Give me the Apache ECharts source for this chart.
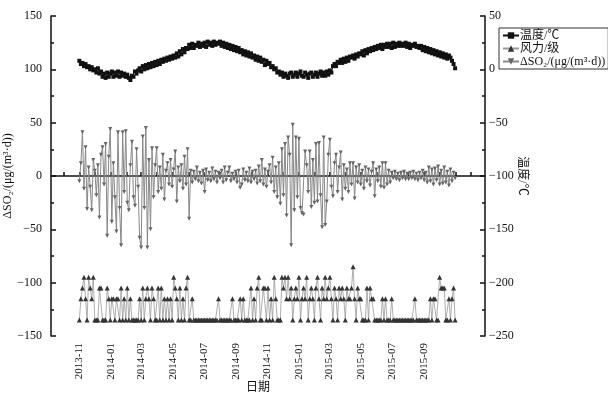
<!DOCTYPE html>
<html>
<head>
<meta charset="utf-8">
<script src="https://cdn.jsdelivr.net/npm/echarts@6/dist/echarts.min.js"></script>
<style>
html, body { margin: 0; padding: 0; background: #fff; }
#chart { width: 608px; height: 400px; }
</style>
</head>
<body>
<div id="chart"></div>
<script>
// 数据从 2013-11-01 开始，每 3 天一个点
const startDate = '2013-11-01';
const stepDays = 3;

// 温度/℃
const temperature = [
  8, 5, 6, 3, 5, 2, 3, 0, 2, -1,
  0, -3, 1, -4, -2, -7, -4, -8, -3, -7,
  -4, -2, -7, -3, -6, -2, -7, -3, -6, -4,
  -7, -5, -8, -10, -6, -7, -2, -4, -1, 1,
  -2, 3, 0, 4, 1, 5, 2, 6, 3, 7,
  4, 8, 5, 9, 7, 10, 8, 11, 9, 12,
  10, 13, 11, 15, 12, 17, 14, 19, 16, 20,
  19, 23, 20, 24, 20, 23, 22, 25, 21, 24,
  22, 25, 21, 26, 23, 25, 22, 26, 23, 25,
  24, 26, 22, 25, 21, 24, 20, 23, 19, 22,
  18, 21, 17, 20, 16, 18, 14, 17, 13, 16,
  12, 15, 11, 13, 9, 12, 8, 11, 7, 9,
  4, 8, 5, 6, 2, 3, 0, 1, -3, -2,
  -5, -3, -7, -4, -6, -8, -4, -3, -7, -5,
  -3, -7, -4, -2, -6, -7, -3, -5, -8, -4,
  -3, -7, -5, -3, -7, -4, -2, -6, -3, -6,
  -2, -5, -1, -3, 3, 5, 3, 7, 6, 9,
  6, 10, 7, 11, 8, 12, 11, 13, 10, 14,
  12, 15, 14, 17, 13, 18, 15, 19, 17, 20,
  18, 21, 19, 22, 20, 23, 19, 23, 21, 24,
  21, 24, 20, 25, 21, 24, 22, 25, 22, 24,
  22, 25, 21, 24, 20, 23, 22, 24, 21, 22,
  20, 22, 18, 21, 17, 20, 16, 19, 15, 18,
  14, 17, 13, 16, 12, 15, 11, 14, 10, 13,
  11, 8, 5, 1
];

// 风力/级
const wind = [
  1, 3, 4, 5, 3, 1, 5, 4, 3, 5,
  1, 1, 1, 4, 4, 1, 1, 1, 4, 3,
  1, 3, 3, 1, 3, 3, 1, 4, 1, 3,
  1, 4, 1, 3, 1, 1, 1, 1, 1, 3,
  1, 4, 1, 3, 4, 3, 1, 4, 3, 1,
  1, 4, 1, 4, 1, 3, 1, 3, 1, 3,
  1, 5, 4, 3, 1, 4, 1, 3, 1, 4,
  5, 1, 1, 3, 1, 1, 1, 1, 1, 1,
  1, 1, 1, 1, 1, 1, 1, 1, 1, 1,
  3, 1, 1, 1, 1, 1, 1, 1, 1, 3,
  1, 1, 1, 1, 3, 1, 3, 1, 1, 1,
  1, 4, 1, 3, 1, 4, 5, 1, 1, 4,
  4, 1, 4, 1, 3, 1, 5, 3, 1, 1,
  1, 5, 4, 5, 3, 5, 3, 4, 1, 3,
  4, 3, 5, 1, 3, 4, 3, 5, 1, 3,
  4, 3, 1, 4, 5, 3, 1, 4, 3, 5,
  3, 4, 5, 3, 1, 4, 3, 1, 4, 3,
  4, 3, 1, 4, 3, 3, 4, 6, 3, 1,
  4, 3, 3, 1, 1, 1, 4, 1, 4, 3,
  3, 1, 1, 1, 1, 1, 3, 1, 3, 1,
  1, 1, 3, 1, 1, 1, 1, 1, 1, 1,
  1, 1, 1, 1, 1, 1, 1, 3, 1, 1,
  1, 1, 1, 1, 1, 1, 1, 3, 1, 3,
  3, 1, 1, 5, 4, 4, 4, 1, 1, 3,
  1, 3, 4, 1
];

// ΔSO2/(μg/(m³·d))
const dSO2 = [
  -5, 12, 41, -12, 27, -31, 8, -10, -32, 15,
  5, -18, 10, -39, 20, 27, -8, 30, -56, 18,
  44, -43, 12, -20, -52, 41, -30, -65, 41, -15,
  42, -25, -32, 10, 32, -20, -28, 25, -10, -58,
  -67, 37, -30, 45, -67, 15, -50, 26, -20, 10,
  26, -15, 8, -12, 20, -22, 5, 12, -8, 15,
  -10, 6, 23, -24, 8, -5, 10, -12, 18, -8,
  25, -40, 5, -6, 4, -3, 8, -5, 3, -7,
  5, -15, 6, -4, 3, -5, 7, -3, 4, -6,
  3, -2, 5, -6, 8, -4, 3, 8, -5, 2,
  -3, 4, -6, 5, -11, -8, 6, -4, 3, -5,
  7, -6, 4, -3, 5, -7, 9, -5, 15, -8,
  6, -10, 4, 10, -6, 17, -15, 8, -20, 12,
  -26, 25, -18, 30, -37, 36, 20, -65, 48, -32,
  36, -20, 35, -30, -35, -36, 23, 10, -15, 23,
  -29, 15, -25, 30, -24, 31, -18, -48, 36, -46,
  -24, 20, 34, -10, -19, 12, 20, -15, 8, 22,
  -22, 10, -12, 6, -15, 12, -8, 12, -21, 8,
  -6, 10, -8, 5, -12, 8, -5, 6, -9, 4,
  12, -19, 6, -5, 8, -10, 12, -11, 12, -8,
  5, -6, 3, -2, 4, -3, 2, -4, 3, -2,
  4, -3, 2, -3, 3, -2, 4, -3, 2, -4,
  3, -2, 5, -4, 3, -6, 8, -5, 6, -8,
  7, -4, 9, -8, 5, -7, 8, -6, 4, -9,
  6, -5, 3, -2
];

// 横轴刻度（每月一个），标签每两个月一个
const tickMonths = [
  '2013-10', '2013-11', '2013-12', '2014-01', '2014-02', '2014-03', '2014-04',
  '2014-05', '2014-06', '2014-07', '2014-08', '2014-09', '2014-10', '2014-11',
  '2014-12', '2015-01', '2015-02', '2015-03', '2015-04', '2015-05', '2015-06',
  '2015-07', '2015-08', '2015-09', '2015-10', '2015-11', '2015-12'
];
const labelMonths = [
  '2013-11', '2014-01', '2014-03', '2014-05', '2014-07', '2014-09',
  '2014-11', '2015-01', '2015-03', '2015-05', '2015-07', '2015-09'
];

const font = "'Liberation Serif', 'Noto Sans CJK SC', serif";

function monthTime(ym) {
  const [y, m] = ym.split('-').map(Number);
  return new Date(y, m - 1, 1).getTime();
}

function withDates(values) {
  const [y, m, d] = startDate.split('-').map(Number);
  return values.map((v, i) => [new Date(y, m - 1, d + i * stepDays).getTime(), v]);
}

function fmtMonth(value) {
  const dt = new Date(value);
  const mm = String(dt.getMonth() + 1).padStart(2, '0');
  return dt.getFullYear() + '-' + mm;
}

function minus(v) {
  return String(v).replace('-', '\u2212');
}

const axisLine = { show: true, lineStyle: { color: '#111', width: 1.5 } };
const tickStyle = { color: '#111', width: 1.5 };
const labelStyle = { fontFamily: font, fontSize: 12, color: '#111' };

const chart = echarts.init(document.getElementById('chart'), null, { renderer: 'canvas' });

chart.setOption({
  animation: false,
  backgroundColor: '#fff',
  grid: { left: 51, right: 123, top: 16, bottom: 64, outerBoundsMode: 'none', containLabel: false },
  legend: {
    orient: 'vertical',
    left: 499,
    top: 28,
    itemGap: 0,
    itemWidth: 16,
    itemHeight: 8,
    padding: [1, 3, 1, 3],
    borderColor: '#333',
    borderWidth: 1,
    textStyle: { fontFamily: font, fontSize: 12, color: '#111', lineHeight: 13, padding: [0, 0, 0, -4] },
    data: ['温度/℃', '风力/级', 'ΔSO₂/(μg/(m³·d))']
  },
  xAxis: {
    type: 'value',
    min: new Date(2013, 8, 7).getTime(),
    max: new Date(2015, 11, 28).getTime(),
    name: '日期',
    nameLocation: 'middle',
    nameGap: 46,
    nameMoveOverlap: false,
    nameTextStyle: { fontFamily: font, fontSize: 12, color: '#111', padding: [0, 20, 0, 0] },
    axisLine: axisLine,
    axisTick: { show: true, inside: true, length: 4, lineStyle: tickStyle, customValues: tickMonths.map(monthTime) },
    axisLabel: {
      fontFamily: font, fontSize: 11, color: '#111', rotate: 90, margin: 7,
      customValues: labelMonths.map(monthTime),
      formatter: fmtMonth
    },
    splitLine: { show: false }
  },
  yAxis: [
    {
      type: 'value',
      position: 'left',
      min: -150, max: 150, interval: 50,
      name: 'ΔSO₂/(μg/(m³·d))',
      nameLocation: 'middle',
      nameGap: 37,
      nameMoveOverlap: false,
      nameTextStyle: { fontFamily: font, fontSize: 12, color: '#111' },
      axisLine: axisLine,
      axisTick: { show: true, inside: true, length: 5, lineStyle: tickStyle },
      minorTick: { show: true, splitNumber: 2, length: 3, lineStyle: tickStyle },
      axisLabel: Object.assign({ margin: 9, formatter: minus }, labelStyle),
      splitLine: { show: false }
    },
    {
      type: 'value',
      position: 'right',
      min: -250, max: 50, interval: 50,
      name: '温度/℃',
      nameLocation: 'middle',
      nameRotate: -90,
      nameGap: 31,
      nameMoveOverlap: false,
      nameTextStyle: { fontFamily: font, fontSize: 12, color: '#111' },
      axisLine: axisLine,
      axisTick: { show: true, inside: true, length: 5, lineStyle: tickStyle },
      minorTick: { show: true, splitNumber: 2, length: 3, lineStyle: tickStyle },
      axisLabel: Object.assign({ margin: 4, formatter: minus }, labelStyle),
      splitLine: { show: false }
    },
    { type: 'value', show: false, min: -0.5, max: 29.5 }
  ],
  series: [
    {
      name: '温度/℃',
      type: 'line',
      yAxisIndex: 1,
      data: withDates(temperature),
      symbol: 'rect',
      symbolSize: 4,
      showAllSymbol: true,
      itemStyle: { color: '#111' },
      lineStyle: { color: '#111', width: 1 },
      z: 4
    },
    {
      name: '风力/级',
      type: 'line',
      yAxisIndex: 2,
      data: withDates(wind),
      symbol: 'triangle',
      symbolSize: 5,
      showAllSymbol: true,
      itemStyle: { color: '#333' },
      lineStyle: { color: '#999', width: 0.8 },
      z: 2
    },
    {
      name: 'ΔSO₂/(μg/(m³·d))',
      type: 'line',
      yAxisIndex: 0,
      data: withDates(dSO2),
      symbol: 'triangle',
      symbolRotate: 180,
      symbolSize: 4,
      showAllSymbol: true,
      itemStyle: { color: '#666' },
      lineStyle: { color: '#888', width: 1 },
      z: 3
    }
  ]
});
</script>
</body>
</html>
